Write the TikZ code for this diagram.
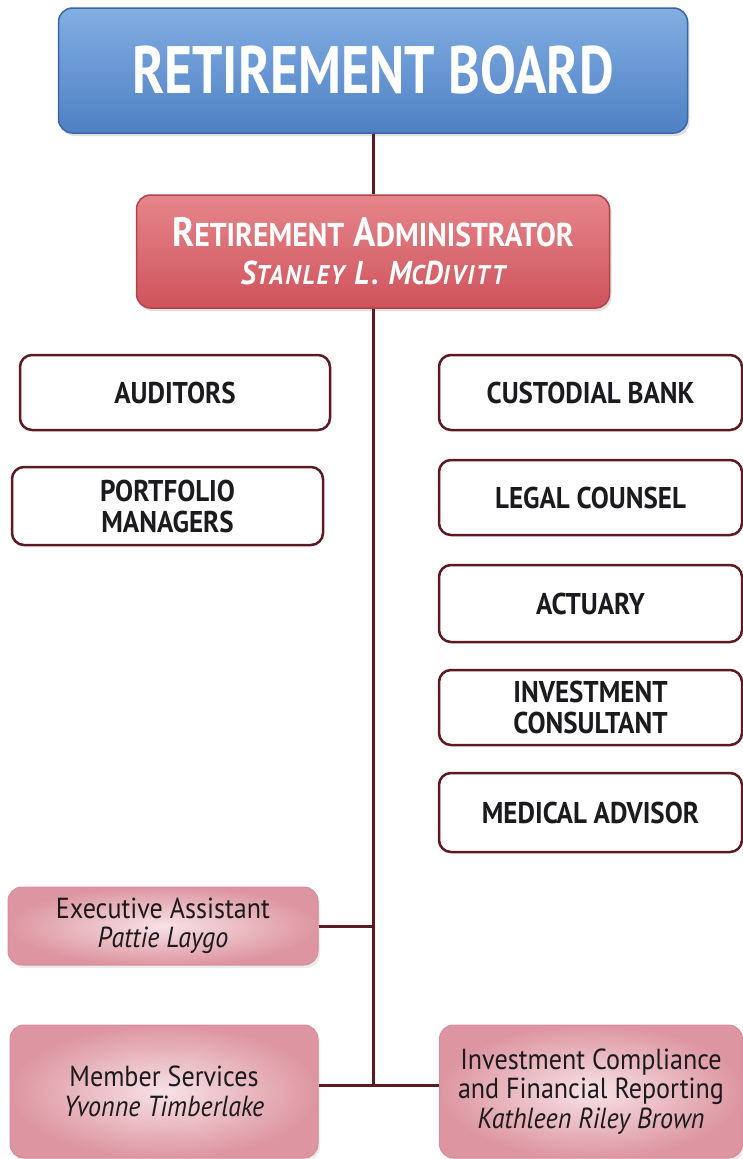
\documentclass[tikz,border=0pt]{standalone}
\usepackage{fontspec}
\setmainfont{PT Sans}[FakeStretch=0.9]
\newfontfamily\boardfont{PT Sans}[FakeStretch=0.8]
\usepackage{tikz}
\usetikzlibrary{shadows}

\definecolor{linkred}{HTML}{5C1A24}
\definecolor{boardtop}{HTML}{82AEE2}
\definecolor{boardbot}{HTML}{4E80C4}
\definecolor{boardrim}{HTML}{3B67A6}
\definecolor{admintop}{HTML}{E6868C}
\definecolor{adminbot}{HTML}{CF535B}
\definecolor{adminrim}{HTML}{B3414A}
\definecolor{staffin}{HTML}{F7E2E6}
\definecolor{staffout}{HTML}{DD96A1}
\definecolor{staffrim}{HTML}{D58F9A}
\definecolor{textdark}{HTML}{1C1A1E}

\newcommand{\fsc}[2]{#1{\fontsize{33}{38}\selectfont #2}}
\newcommand{\fscs}[2]{#1{\fontsize{27}{38}\selectfont #2}}

\tikzset{
	boardbox/.style={rounded corners=14pt, draw=boardrim, line width=1.5pt,
		top color=boardtop, bottom color=boardbot, text=white,
		minimum width=629pt, minimum height=125pt,
		font=\boardfont\bfseries\fontsize{67}{70}\selectfont,
		drop shadow={opacity=0.25, shadow xshift=2pt, shadow yshift=-3pt}},
	adminbox/.style={rounded corners=14pt, draw=adminrim, line width=1.5pt,
		top color=admintop, bottom color=adminbot, text=white, align=center,
		minimum width=473pt, minimum height=113pt,
		font=\bfseries\fontsize{41}{38}\selectfont,
		drop shadow={opacity=0.25, shadow xshift=2pt, shadow yshift=-3pt}},
	servicebox/.style={rounded corners=12pt, draw=linkred, line width=2.5pt,
		fill=white, text=textdark, align=center,
		minimum height=75pt, font=\bfseries\fontsize{30}{31}\selectfont},
	staffbox/.style={rounded corners=14pt, draw=staffrim, line width=1pt,
		inner color=staffin, outer color=staffout, text=textdark, align=center,
		font=\fontsize{29}{29.5}\selectfont,
		drop shadow={opacity=0.15, shadow xshift=2pt, shadow yshift=-3pt}},
	link/.style={draw=linkred, line width=3pt}
}

\begin{document}
\begin{tikzpicture}[x=1pt, y=-1pt]
	\useasboundingbox[fill=white] (0,0) rectangle (743,1159);

	% top of the chart
	\node[boardbox] (board) at (373,70.5) {RETIREMENT BOARD};
	\node[adminbox] (admin) at (373,251.5) {\fsc{R}{ETIREMENT} \fsc{A}{DMINISTRATOR}\\
		{\itshape\fontsize{33}{38}\selectfont\addfontfeature{LetterSpace=7}\fscs{S}{TANLEY} L. \fscs{M}{C}D\fscs{}{IVITT}}};

	% outside services
	\node[servicebox, minimum width=310pt] (auditors) at (175,392.5) {AUDITORS};
	\node[servicebox, minimum width=311pt, minimum height=78pt] (portfolio) at (167.5,506) {PORTFOLIO\\MANAGERS};
	\node[servicebox, minimum width=303pt] (custodial) at (590.5,392.5) {CUSTODIAL BANK};
	\node[servicebox, minimum width=303pt] (legal) at (590.5,497.5) {LEGAL COUNSEL};
	\node[servicebox, minimum width=303pt, minimum height=77pt] (actuary) at (590.5,603.5) {ACTUARY};
	\node[servicebox, minimum width=303pt] (consultant) at (590.5,707.5) {INVESTMENT\\CONSULTANT};
	\node[servicebox, minimum width=303pt, minimum height=79pt] (medical) at (590.5,812.5) {MEDICAL ADVISOR};

	% staff
	\node[staffbox, minimum width=310pt, minimum height=78pt] (assistant) at (163,926) {Executive Assistant\\\textit{Pattie Laygo}};
	\node[staffbox, minimum width=308pt, minimum height=133pt] (member) at (164,1091.5) {Member Services\\\textit{Yvonne Timberlake}};
	\node[staffbox, minimum width=303pt, minimum height=133pt] (compliance) at (591,1091.5) {Investment Compliance\\and Financial Reporting\\\textit{Kathleen Riley Brown}};

	\coordinate (hub) at (373,1085);

	% connectors
	\draw[link] (board) -- (admin);
	\draw[link] (admin) -- (hub);
	\draw[link] (assistant.east) -- (assistant.east -| hub);
	\draw[link] (member.east |- hub) -- (compliance.west |- hub);
\end{tikzpicture}
\end{document}
